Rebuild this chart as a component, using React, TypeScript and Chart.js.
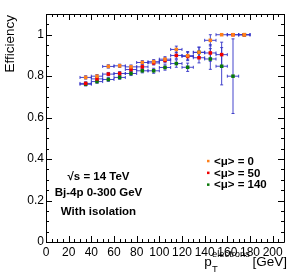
import { useEffect, useRef } from "react";
import { Chart, registerables } from "chart.js";
Chart.register(...registerables);

// ---- data ----
const binCenters = [35, 45, 55, 65, 75, 85, 95, 105, 115, 125, 135, 145, 155, 165, 175];
const binHalfWidth = 5;

const effMu0 = [0.794, 0.8, 0.847, 0.85, 0.845, 0.866, 0.87, 0.882, 0.929, 0.899, 0.915, 0.973, 1.0, 1.0, 1.0];
const errMu0 = [0.008, 0.008, 0.008, 0.008, 0.009, 0.009, 0.01, 0.012, 0.016, 0.02, 0.025, 0.027, 0, 0, 0];

const effMu50 = [0.765, 0.787, 0.81, 0.813, 0.832, 0.845, 0.864, 0.876, 0.9, 0.895, 0.889, 0.912, 0.904, 1.0, 1.0];
const errMu50 = [0.008, 0.008, 0.008, 0.009, 0.009, 0.01, 0.01, 0.012, 0.016, 0.02, 0.025, 0.04, 0.06, 0, 0];

const effMu140 = [0.761, 0.774, 0.784, 0.794, 0.813, 0.826, 0.826, 0.842, 0.861, 0.843, 0.915, 0.883, 0.848, 0.8, 1.0];
const errMu140 = [0.008, 0.008, 0.009, 0.009, 0.01, 0.01, 0.012, 0.013, 0.018, 0.02, 0.025, 0.05, 0.09, 0.18, 0];

const seriesLabels = ["<μ> = 0", "<μ> = 50", "<μ> = 140"];
const seriesColors = ["#ff801a", "#f00000", "#0a780a"];
const xTickLabels = [0, 20, 40, 60, 80, 100, 120, 140, 160, 180, 200];
const yTickLabels = [0, 0.2, 0.4, 0.6, 0.8, 1];
const infoLines = ["√s = 14 TeV", "Bj-4p 0-300 GeV", "With isolation"];

const FONT = "'Liberation Sans', Arial, Helvetica, sans-serif";

const values = [effMu0, effMu50, effMu140];
const errors = [errMu0, errMu50, errMu140];

const frameTicksPlugin = {
  id: "frameTicks",
  beforeDatasetsDraw(chart: any) {
    const { ctx, chartArea, scales } = chart;
    const { left, right, top, bottom } = chartArea;
    const xs = scales.x;
    const ys = scales.y;
    ctx.save();
    ctx.strokeStyle = "#000";
    ctx.lineWidth = 1;
    ctx.beginPath();
    ctx.rect(left + 0.5, top + 0.5, right - left, bottom - top);
    ctx.stroke();
    ctx.beginPath();
    for (let i = 0; i <= 42; i++) {
      const v = i * 5;
      const px = Math.round(xs.getPixelForValue(v)) + 0.5;
      const len = i % 4 === 0 ? 6 : 3;
      ctx.moveTo(px, bottom);
      ctx.lineTo(px, bottom - len);
      ctx.moveTo(px, top);
      ctx.lineTo(px, top + len);
    }
    for (let i = 0; i <= 22; i++) {
      const v = i * 0.05;
      const py = Math.round(ys.getPixelForValue(v)) + 0.5;
      const len = i % 4 === 0 ? 6 : 3;
      ctx.moveTo(left, py);
      ctx.lineTo(left + len, py);
      ctx.moveTo(right, py);
      ctx.lineTo(right - len, py);
    }
    ctx.stroke();
    ctx.restore();
  },
};

const errorBarsPlugin = {
  id: "errorBars",
  beforeDatasetsDraw(chart: any) {
    const { ctx, scales } = chart;
    const xs = scales.x;
    const ys = scales.y;
    ctx.save();
    ctx.strokeStyle = "rgba(50,50,200,0.9)";
    ctx.lineWidth = 1;
    values.forEach((vals, s) => {
      ctx.beginPath();
      vals.forEach((v, i) => {
        const cx = xs.getPixelForValue(binCenters[i]);
        const x0 = xs.getPixelForValue(binCenters[i] - binHalfWidth);
        const x1 = xs.getPixelForValue(binCenters[i] + binHalfWidth);
        const cy = ys.getPixelForValue(v);
        const y0 = ys.getPixelForValue(v - errors[s][i]);
        const y1 = ys.getPixelForValue(v + errors[s][i]);
        ctx.moveTo(x0, cy);
        ctx.lineTo(x1, cy);
        ctx.moveTo(x0, cy - 1.5);
        ctx.lineTo(x0, cy + 1.5);
        ctx.moveTo(x1, cy - 1.5);
        ctx.lineTo(x1, cy + 1.5);
        if (errors[s][i] > 0) {
          ctx.moveTo(cx, y0);
          ctx.lineTo(cx, y1);
          ctx.moveTo(cx - 1.5, y0);
          ctx.lineTo(cx + 1.5, y0);
          ctx.moveTo(cx - 1.5, y1);
          ctx.lineTo(cx + 1.5, y1);
        }
      });
      ctx.stroke();
    });
    ctx.restore();
  },
};

const textPlugin = {
  id: "texts",
  afterDraw(chart: any) {
    const { ctx, chartArea } = chart;
    ctx.save();
    ctx.fillStyle = "#000";
    // y title
    ctx.save();
    ctx.translate(13.5, chartArea.top + 1);
    ctx.rotate(-Math.PI / 2);
    ctx.font = `13.5px ${FONT}`;
    ctx.textAlign = "right";
    ctx.textBaseline = "alphabetic";
    ctx.fillText("Efficiency", 0, 0);
    ctx.restore();

    // x title: p_T^{electrons} [GeV]
    ctx.textAlign = "left";
    ctx.textBaseline = "alphabetic";
    ctx.font = `13.5px ${FONT}`;
    const gev = "[GeV]";
    const gevW = ctx.measureText(gev).width;
    const gevX = 287 - gevW;
    ctx.fillText(gev, gevX, 266);
    ctx.font = `9.4px ${FONT}`;
    const sup = "electrons";
    const supW = ctx.measureText(sup).width;
    const supX = gevX - 2.5 - supW;
    ctx.fillText(sup, supX, 257);
    ctx.fillText("T", supX, 271.5);
    ctx.font = `13.5px ${FONT}`;
    const pW = ctx.measureText("p").width;
    ctx.fillText("p", supX - pW - 0.3, 266);

    // info text
    ctx.font = `bold 11.5px ${FONT}`;
    ctx.textAlign = "center";
    const infoBase = [180, 196, 214.5];
    infoLines.forEach((t, i) => ctx.fillText(t, 98.5, infoBase[i]));

    // legend
    ctx.textAlign = "left";
    const legBase = [164.8, 176.6, 188.4];
    seriesLabels.forEach((t, i) => {
      ctx.fillStyle = seriesColors[i];
      ctx.fillRect(207, legBase[i] - 5, 2.5, 2.5);
      ctx.fillStyle = "#000";
      ctx.fillText(t, 214, legBase[i]);
    });
    ctx.restore();
  },
};

export default function App() {
  const ref = useRef<HTMLCanvasElement | null>(null);
  useEffect(() => {
    if (!ref.current) return;
    const chart = new Chart(ref.current, {
      type: "scatter",
      data: {
        datasets: values.map((vals, s) => ({
          label: seriesLabels[s],
          data: vals.map((v, i) => ({ x: binCenters[i], y: v })),
          pointStyle: "rect",
          pointRadius: 2.5,
          pointBorderWidth: 0,
          backgroundColor: seriesColors[s],
          borderColor: seriesColors[s],
          showLine: false,
        })),
      },
      options: {
        animation: false,
        responsive: false,
        devicePixelRatio: 1,
        layout: { padding: { top: 14, right: 7, left: 0, bottom: 0 } },
        plugins: { legend: { display: false }, tooltip: { enabled: false } },
        events: [],
        scales: {
          x: {
            type: "linear",
            min: 0,
            max: 210,
            grid: { display: false, drawTicks: false },
            border: { display: false },
            ticks: {
              stepSize: 20,
              autoSkip: false,
              maxRotation: 0,
              padding: 3,
              color: "#000",
              font: { family: FONT, size: 12 },
              callback: (v: any) => String(v),
            },
            afterBuildTicks: (scale: any) => {
              scale.ticks = xTickLabels.map((v) => ({ value: v }));
            },
            afterFit: (scale: any) => {
              scale.height = 37;
            },
          },
          y: {
            type: "linear",
            min: 0,
            max: 1.1,
            grid: { display: false, drawTicks: false },
            border: { display: false },
            ticks: {
              stepSize: 0.2,
              autoSkip: false,
              padding: 2,
              color: "#000",
              font: { family: FONT, size: 12 },
              callback: (v: any) => String(Number(Number(v).toFixed(1))),
            },
            afterBuildTicks: (scale: any) => {
              scale.ticks = yTickLabels.map((v) => ({ value: v }));
            },
            afterFit: (scale: any) => {
              scale.width = 46;
            },
          },
        },
      },
      plugins: [frameTicksPlugin, errorBarsPlugin, textPlugin],
    } as any);
    return () => chart.destroy();
  }, []);
  return (
    <div style={{ position: "fixed", left: 0, top: 0, width: 291, height: 279, background: "#fff" }}>
      <canvas ref={ref} width={291} height={279} style={{ display: "block" }} />
    </div>
  );
}
